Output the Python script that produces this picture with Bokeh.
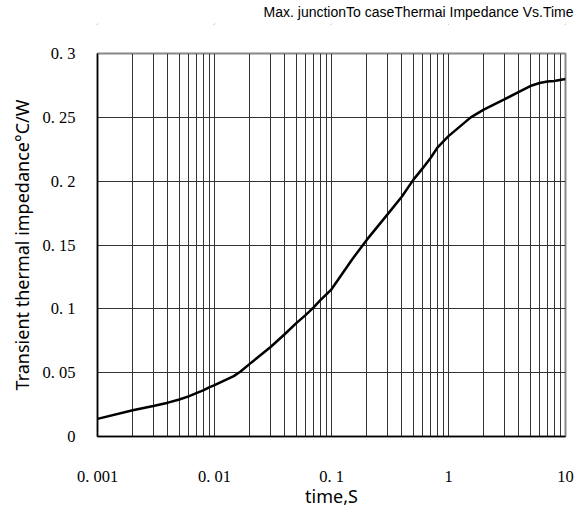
from bokeh.plotting import figure
from bokeh.models import Range1d, FixedTicker, LogAxis, CustomJSTickFormatter
from bokeh.embed import file_html
from bokeh.resources import INLINE

# time (s) and transient thermal impedance (°C/W)
time_s = [0.001, 0.002, 0.003, 0.004, 0.005, 0.006, 0.007, 0.008, 0.009, 0.01,
          0.0146, 0.0167, 0.02, 0.03, 0.04, 0.05, 0.06, 0.07, 0.08, 0.1, 0.15,
          0.2, 0.3, 0.4, 0.5, 0.6, 0.7, 0.8, 0.9, 1.0, 1.55, 2.0, 3.0,
          4.0, 5.0, 6.0, 7.0, 8.0, 10.0]
zth = [0.0138, 0.0205, 0.0239, 0.0265, 0.029, 0.0314, 0.034, 0.0361, 0.0385, 0.0402,
       0.0473, 0.0509, 0.0569, 0.0699, 0.0803, 0.0888, 0.0951, 0.101, 0.1067, 0.1153, 0.1387,
       0.154, 0.1738, 0.188, 0.201, 0.210, 0.218, 0.226, 0.231, 0.2353, 0.250, 0.256, 0.264,
       0.270, 0.2745, 0.2769, 0.278, 0.2785, 0.280]

x_major = [0.001, 0.01, 0.1, 1, 10]
x_minor = [m * d for d in [0.001, 0.01, 0.1, 1] for m in range(2, 10)]
x_labels = ["0. 001", "0. 01", "0. 1", "1", "10"]
y_major = [0, 0.05, 0.1, 0.15, 0.2, 0.25, 0.3]
y_labels = ["0", "0. 05", "0. 1", "0. 15", "0. 2", "0. 25", "0. 3"]

title_text = "Max. junctionTo caseThermai Impedance Vs.Time"
x_title = "time,S"
y_title = "Transient thermal impedance°C/W"

lookup_code = """
let best = 0, bd = Infinity;
for (let i = 0; i < tv.length; i++) {
  const d = Math.abs(tv[i] - tick);
  const s = Math.max(Math.abs(tv[i]), 1e-12);
  const r = tv[i] === 0 ? d : d / s;
  if (r < bd) { bd = r; best = i; }
}
return tl[best];
"""

p = figure(width=585, height=510, x_axis_type="log",
           x_range=Range1d(0.001, 10), y_range=Range1d(0, 0.3),
           output_backend="svg", toolbar_location=None,
           min_border_left=97, min_border_right=20, min_border_top=53, min_border_bottom=72)

# empty spacer axis above the frame, so the title sits higher
spacer = LogAxis(ticker=FixedTicker(ticks=[], minor_ticks=[]), axis_line_color=None,
                 major_tick_line_color=None, minor_tick_line_color=None,
                 major_tick_out=29, major_tick_in=0, minor_tick_out=0,
                 major_label_standoff=0, major_label_text_font_size="1px")
p.add_layout(spacer, "above")

p.title.text = title_text
p.title.align = "right"
p.title.text_font = "Liberation Sans"
p.title.text_font_size = "14px"
p.title.text_font_style = "normal"
p.title.text_color = "#000000"
p.title.standoff = 0
p.title.offset = -8
p.title.vertical_align = "bottom"

p.xaxis.ticker = FixedTicker(ticks=x_major, minor_ticks=x_minor)
p.yaxis.ticker = FixedTicker(ticks=y_major)
main_x = p.below[0]
main_x.formatter = CustomJSTickFormatter(args=dict(tv=x_major, tl=x_labels), code=lookup_code)
p.yaxis.formatter = CustomJSTickFormatter(args=dict(tv=y_major, tl=y_labels), code=lookup_code)

for ax in (main_x, p.yaxis[0]):
    ax.major_tick_line_color = None
    ax.minor_tick_line_color = None
    ax.axis_line_color = "#000000"
    ax.axis_line_width = 1.5
    ax.major_label_text_font = "Liberation Serif"
    ax.major_label_text_font_size = "16.5px"
    ax.major_label_text_color = "#000000"
    ax.axis_label_text_font = "Noto Sans"
    ax.axis_label_text_font_size = "18px"
    ax.axis_label_text_font_style = "normal"
    ax.axis_label_text_color = "#000000"

main_x.axis_label = x_title
p.yaxis.axis_label = y_title
main_x.major_label_standoff = 24
main_x.axis_label_standoff = -5
p.yaxis.major_label_standoff = 16
p.yaxis.axis_label_standoff = 6

p.xgrid.grid_line_color = "#333333"
p.xgrid.grid_line_width = 1
p.xgrid.minor_grid_line_color = "#333333"
p.xgrid.minor_grid_line_width = 1
p.ygrid.grid_line_color = "#333333"
p.ygrid.grid_line_width = 1

p.outline_line_color = "#888888"
p.outline_line_width = 2

p.line(time_s, zth, line_color="#000000", line_width=2.5)

open("out.html", "w").write(file_html(p, INLINE))
